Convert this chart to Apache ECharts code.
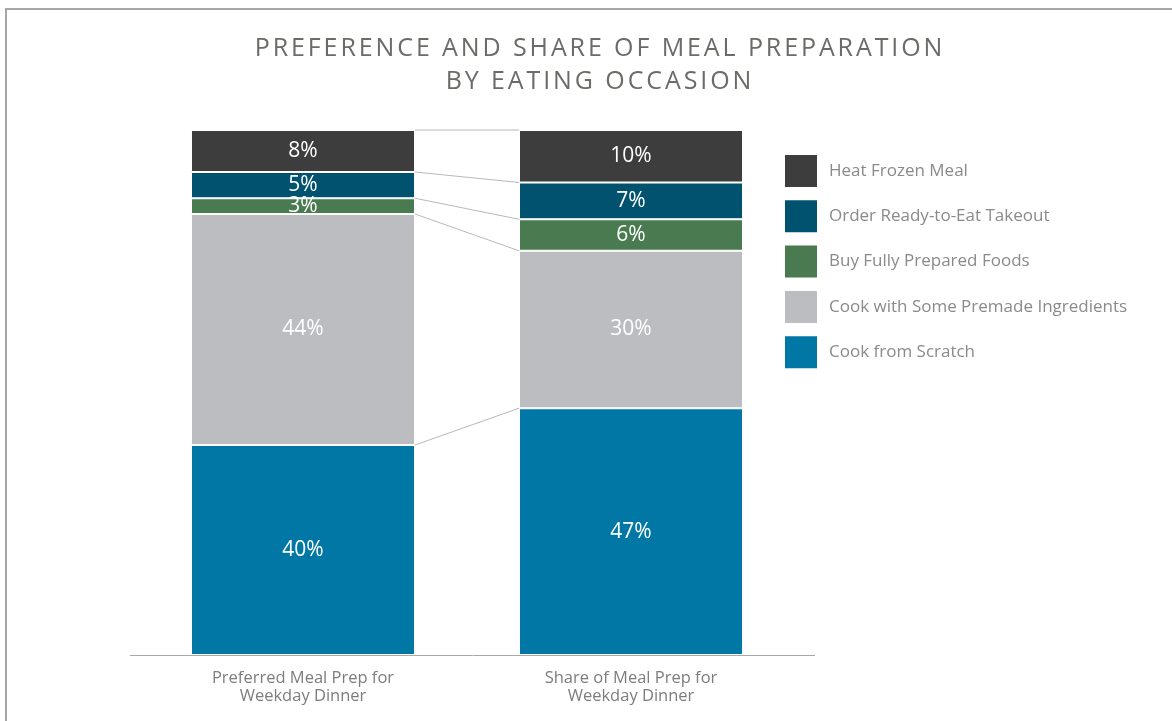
<!DOCTYPE html>
<html>
<head>
<meta charset="utf-8">
<script src="https://cdn.jsdelivr.net/npm/echarts@6/dist/echarts.min.js"></script>
<style>
  html, body { margin: 0; padding: 0; background: #fff; }
  #frame {
    position: absolute; left: 5px; top: 8px; right: 0; bottom: 0;
    border-top: 2px solid #a6a6a6; border-left: 2px solid #a6a6a6;
  }
  #title {
    position: absolute; left: 0; width: 1200px; top: 30px;
    text-align: center; color: #6b6c67;
    font: 400 25px/33px "Open Sans", sans-serif; letter-spacing: 2.9px;
  }
  #chart { position: absolute; left: 0; top: 0; width: 1172px; height: 721px; }
</style>
</head>
<body>
<div id="frame"></div>
<div id="chart"></div>
<div id="title">PREFERENCE AND SHARE OF MEAL PREPARATION<br>BY EATING OCCASION</div>
<script>
// categories (x axis)
const categories = ['Preferred Meal Prep for\nWeekday Dinner', 'Share of Meal Prep for\nWeekday Dinner']

// segments, bottom to top
const segments = ['Cook from Scratch', 'Cook with Some Premade Ingredients', 'Buy Fully Prepared Foods', 'Order Ready-to-Eat Takeout', 'Heat Frozen Meal']
const preferred = [40, 44, 3, 5, 8]
const share = [47, 30, 6, 7, 10]
const colors = ['#0077a4', '#bcbdc0', '#4a7a4f', '#00526f', '#3d3d3d']

// cumulative tops, used for the connector lines
const cum = arr => arr.map((v, i) => arr.slice(0, i + 1).reduce((a, b) => a + b, 0))
const prefTops = cum(preferred)
const shareTops = cum(share)

const chart = echarts.init(document.getElementById('chart'))

const barSeries = segments.map((name, i) => ({
  name,
  type: 'bar',
  stack: 'total',
  barWidth: 224,
  data: [preferred[i], share[i]],
  itemStyle: {color: colors[i], borderColor: '#fff', borderWidth: 1},
  label: {
    show: true,
    position: 'inside',
    formatter: '{c}%',
    color: '#fff',
    fontSize: 21,
    fontFamily: 'Open Sans'
  }
}))

// thin lines joining segment tops of both bars
const connectors = {
  type: 'custom',
  silent: true,
  z: 1,
  encode: {x: 0, y: [1, 2]},
  data: prefTops.map((t, i) => [0, t, shareTops[i]]),
  renderItem: (params, api) => {
    const p1 = api.coord([0, api.value(1)])
    const p2 = api.coord([1, api.value(2)])
    return {
      type: 'line',
      shape: {x1: p1[0] + 112, y1: p1[1], x2: p2[0] - 112, y2: p2[1]},
      style: {stroke: '#b8b8b8', lineWidth: 1}
    }
  }
}

chart.setOption({
  animation: false,
  grid: {left: 139, right: 377, top: 130, bottom: 66},
  xAxis: {
    type: 'category',
    data: categories,
    axisLine: {show: false},
    axisTick: {show: false},
    axisLabel: {color: '#7d7d7d', fontSize: 16.5, lineHeight: 18, margin: 14, fontFamily: 'Open Sans'}
  },
  yAxis: {type: 'value', min: 0, max: 100, show: false},
  legend: {
    orient: 'vertical',
    left: 780,
    top: 150,
    itemWidth: 32,
    itemHeight: 32,
    itemGap: 13.3,
    icon: 'rect',
    itemStyle: {borderWidth: 0},
    data: segments.slice().reverse(),
    textStyle: {color: '#8a8a8a', fontSize: 17, fontFamily: 'Open Sans', padding: [0, 0, 0, 7]}
  },
  graphic: [{
    type: 'line',
    shape: {x1: 130, y1: 655.5, x2: 815, y2: 655.5},
    style: {stroke: '#a8a8a8', lineWidth: 1}
  }],
  series: [...barSeries, connectors]
})
</script>
</body>
</html>
